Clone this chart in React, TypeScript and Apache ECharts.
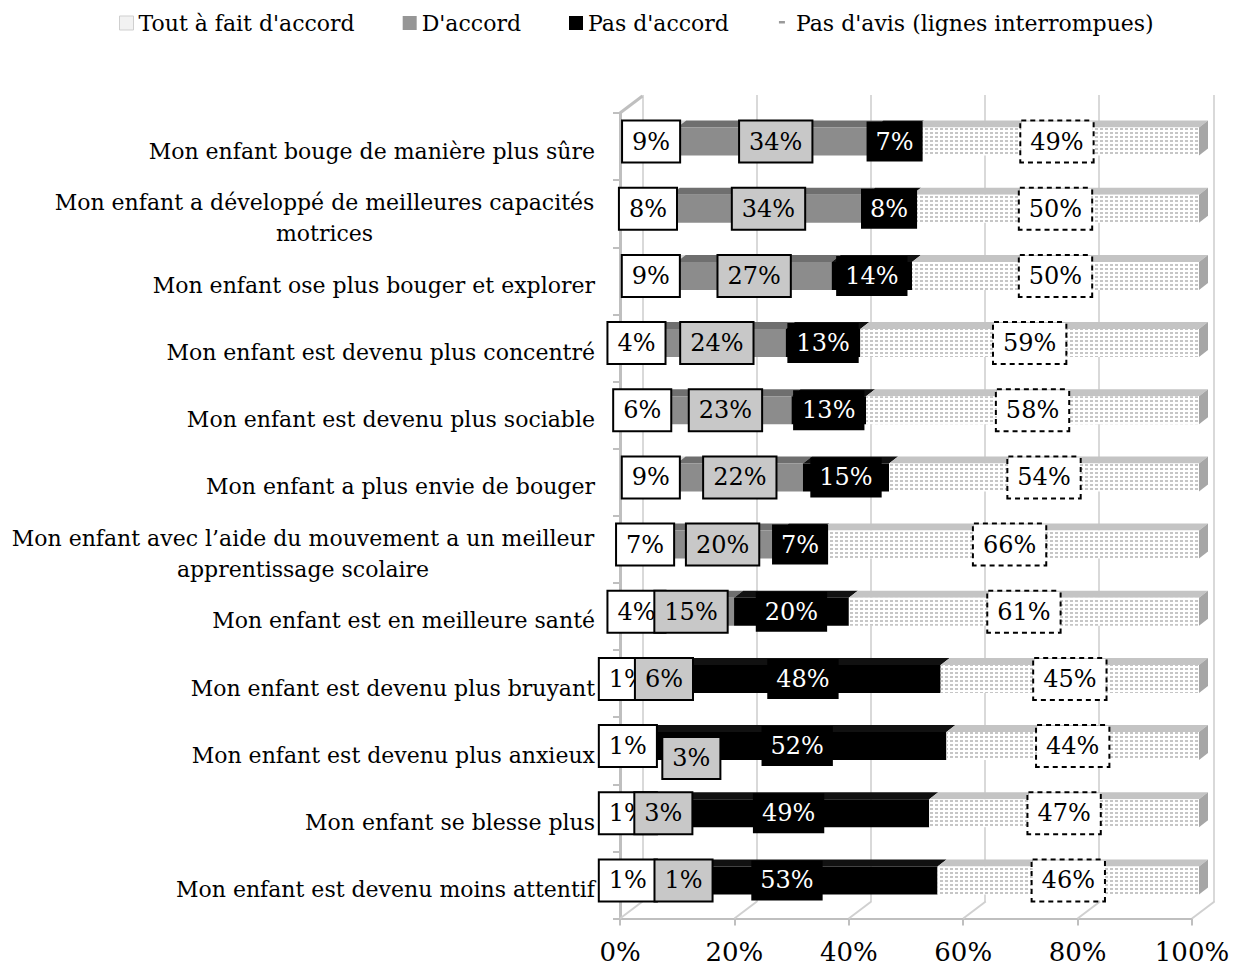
import React, { useEffect, useRef } from 'react';
import * as echarts from 'echarts';

const categories = [
  'Mon enfant bouge de manière plus sûre',
  'Mon enfant a développé de meilleures capacités\nmotrices',
  'Mon enfant ose plus bouger et explorer',
  'Mon enfant est devenu plus concentré',
  'Mon enfant est devenu plus sociable',
  'Mon enfant a plus envie de bouger',
  'Mon enfant avec l’aide du mouvement a un meilleur\napprentissage scolaire',
  'Mon enfant est en meilleure santé',
  'Mon enfant est devenu plus bruyant',
  'Mon enfant est devenu plus anxieux',
  'Mon enfant se blesse plus',
  'Mon enfant est devenu moins attentif',
];
const seriesNames = ["Tout à fait d'accord", "D'accord", "Pas d'accord", "Pas d'avis (lignes interrompues)"];
const toutAFait = [9, 8, 9, 4, 6, 9, 7, 4, 1, 1, 1, 1];
const dAccord = [34, 34, 27, 24, 23, 22, 20, 15, 6, 3, 3, 1];
const pasDAccord = [7, 8, 14, 13, 13, 15, 7, 20, 48, 52, 49, 53];
const pasDAvis = [49, 50, 50, 59, 58, 54, 66, 61, 45, 44, 47, 46];
const xTicks = [0, 20, 40, 60, 80, 100];

const FONT = '"DejaVu Serif", serif';
const BAR_H = 28;
const DX = 9;
const DY = 7;
const FLOOR_DX = 22.5;
const FLOOR_DY = 17;

// label nudges (style only) for the crowded "D'accord" labels
const dAccordLabelShift: Record<number, number[]> = { 8: [16, 0], 9: [52, 12], 10: [24, 0], 11: [50, 0] };

export default function App() {
  const ref = useRef<HTMLDivElement>(null);
  useEffect(() => {
    const chart = echarts.init(ref.current!, null, { renderer: 'svg' });
    const raw = [toutAFait, dAccord, pasDAccord, pasDAvis];
    const totals = categories.map((_, i) => raw.reduce((s, a) => s + a[i], 0));
    const shares = raw.map((a) => a.map((v, i) => (v / totals[i]) * 100));

    const canvas = document.createElement('canvas');
    const ctx = canvas.getContext('2d')!;
    ctx.font = '22px "DejaVu Serif"';
    const rich: Record<string, any> = {};
    categories.forEach((c, i) => {
      if (c.includes('\n')) {
        const w = Math.ceil(ctx.measureText(c.split('\n')[0]).width) + 1;
        rich['r' + i] = { width: w, align: 'center', fontFamily: FONT, fontSize: 22, lineHeight: 31, color: '#000' };
      }
    });

    const colors = ['#f0f0f0', '#8c8c8c', '#000000', '#ffffff'];
    const topColors = ['#dadada', '#6f6f6f', '#111111', '#c4c4c4'];
    const labelStyles: any[] = [
      { color: '#000', backgroundColor: '#fff', borderColor: '#000', borderWidth: 2 },
      { color: '#000', backgroundColor: '#c8c8c8', borderColor: '#000', borderWidth: 2 },
      { color: '#fff', backgroundColor: '#000', borderWidth: 0 },
      { color: '#000', backgroundColor: '#fff', borderColor: '#000', borderWidth: 2, borderType: [5, 4] },
    ];

    const barSeries = seriesNames.map((name, k) => ({
      type: 'bar',
      name,
      stack: 'total',
      xAxisIndex: 0,
      yAxisIndex: 0,
      barWidth: BAR_H,
      z: 3,
      emphasis: { disabled: true },
      itemStyle: {
        color: colors[k],
        ...(k === 3
          ? {
              decal: {
                symbol: 'rect',
                symbolSize: 1,
                color: '#c6c6c6',
                dashArrayX: [3, 2],
                dashArrayY: [1.5, 2],
                rotation: 0,
              },
            }
          : {}),
      },
      label: {
        show: true,
        position: 'inside',
        fontFamily: FONT,
        fontSize: 24,
        lineHeight: 28,
        padding: [7, 9, 5, 9],
        formatter: (p: any) => raw[k][p.dataIndex] + '%',
        ...labelStyles[k],
      },
      data: shares[k].map((v, i) =>
        k === 1 && dAccordLabelShift[i] ? { value: v, label: { offset: dAccordLabelShift[i] } } : v
      ),
    }));

    const faceData: number[][] = [];
    categories.forEach((_, i) => {
      let acc = 0;
      for (let k = 0; k < 4; k++) {
        faceData.push([acc, acc + shares[k][i], i, k]);
        acc += shares[k][i];
      }
    });

    const option: any = {
      animation: false,
      backgroundColor: '#ffffff',
      legend: {
        top: 7,
        left: 114,
        itemWidth: 14,
        itemHeight: 14,
        itemGap: 48,
        selectedMode: false,
        textStyle: { fontFamily: FONT, fontSize: 22, color: '#000' },
        data: [
          { name: seriesNames[0], icon: 'rect', itemStyle: { color: '#f2f2f2', borderColor: '#cfcfcf', borderWidth: 1 } },
          { name: seriesNames[1], icon: 'rect', itemStyle: { color: '#969696' } },
          { name: seriesNames[2], icon: 'rect', itemStyle: { color: '#000000' } },
          {
            name: seriesNames[3],
            icon: 'path://M0,0M14,14M2,5h6v2.5h-6z',
            itemStyle: { color: '#9a9a9a', decal: 'none' },
          },
        ],
      },
      grid: [
        { left: 625, width: 574, top: 108, height: 806, outerBoundsMode: 'none' },
        { left: 620, width: 572, top: 113, height: 805.5, outerBoundsMode: 'none' },
        { left: 642.8, width: 570.5, top: 95, height: 807, outerBoundsMode: 'none' },
      ],
      xAxis: [
        { gridIndex: 0, type: 'value', min: 0, max: 100, show: false },
        {
          gridIndex: 1,
          type: 'value',
          min: 0,
          max: 100,
          interval: 20,
          axisLine: { show: true, lineStyle: { color: '#bfbfbf', width: 2 } },
          axisTick: { show: true, length: 7, lineStyle: { color: '#bfbfbf', width: 2 } },
          splitLine: { show: false },
          axisLabel: { formatter: '{value}%', fontFamily: FONT, fontSize: 26, color: '#000', margin: 20 },
        },
        {
          gridIndex: 2,
          type: 'value',
          min: 0,
          max: 100,
          interval: 20,
          axisLine: { show: false },
          axisTick: { show: false },
          axisLabel: { show: false },
          splitLine: { show: true, lineStyle: { color: '#d9d9d9', width: 2 } },
        },
      ],
      yAxis: [
        { gridIndex: 0, type: 'category', inverse: true, data: categories, show: false },
        {
          gridIndex: 1,
          type: 'category',
          inverse: true,
          data: categories,
          axisLine: { show: true, lineStyle: { color: '#bfbfbf', width: 3 } },
          axisTick: { show: true, length: 7, lineStyle: { color: '#bfbfbf', width: 2 } },
          axisLabel: {
            interval: 0,
            margin: 25,
            fontFamily: FONT,
            fontSize: 22,
            color: '#000',
            lineHeight: 31,
            padding: [9, 0, 0, 0],
            formatter: (value: string, idx: number) =>
              value.includes('\n')
                ? value
                    .split('\n')
                    .map((l) => `{r${idx}|${l}}`)
                    .join('\n')
                : value,
            rich,
          },
        },
        { gridIndex: 2, type: 'value', show: false },
      ],
      series: [
        {
          type: 'custom',
          xAxisIndex: 1,
          yAxisIndex: 1,
          z: 1,
          silent: true,
          encode: { x: 0, y: 1 },
          data: xTicks.map((v) => [v, 0]),
          renderItem: (params: any, api: any) => {
            const cs = params.coordSys;
            const v = api.value(0);
            const x = api.coord([v, 0])[0];
            const yb = cs.y + cs.height;
            const children: any[] = [
              {
                type: 'line',
                shape: { x1: x, y1: yb, x2: x + FLOOR_DX, y2: yb - FLOOR_DY },
                style: { stroke: '#d0d0d0', lineWidth: 2 },
              },
            ];
            if (v === 0) {
              children.push({
                type: 'line',
                shape: { x1: x, y1: cs.y, x2: x + FLOOR_DX, y2: cs.y - FLOOR_DY },
                style: { stroke: '#bfbfbf', lineWidth: 3 },
              });
            }
            return { type: 'group', children };
          },
        },
        {
          type: 'custom',
          xAxisIndex: 0,
          yAxisIndex: 0,
          z: 2,
          silent: true,
          encode: { x: [0, 1], y: 2 },
          data: faceData,
          renderItem: (params: any, api: any) => {
            const s = api.value(0);
            const e = api.value(1);
            const row = api.value(2);
            const k = api.value(3);
            const a = api.coord([s, row]);
            const b = api.coord([e, row]);
            const top = a[1] - BAR_H / 2;
            const children: any[] = [
              {
                type: 'polygon',
                shape: {
                  points: [
                    [a[0], top],
                    [b[0], top],
                    [b[0] + DX, top - DY],
                    [a[0] + DX, top - DY],
                  ],
                },
                style: { fill: topColors[k] },
              },
            ];
            if (k === 3) {
              children.push({
                type: 'polygon',
                shape: {
                  points: [
                    [b[0], top],
                    [b[0] + DX, top - DY],
                    [b[0] + DX, top - DY + BAR_H],
                    [b[0], top + BAR_H],
                  ],
                },
                style: { fill: '#a6a6a6' },
              });
            }
            return { type: 'group', children };
          },
        },
        ...barSeries,
      ],
    };
    chart.setOption(option);
    return () => chart.dispose();
  }, []);
  return <div ref={ref} style={{ position: 'fixed', left: 0, top: 0, width: 1234, height: 970 }} />;
}
